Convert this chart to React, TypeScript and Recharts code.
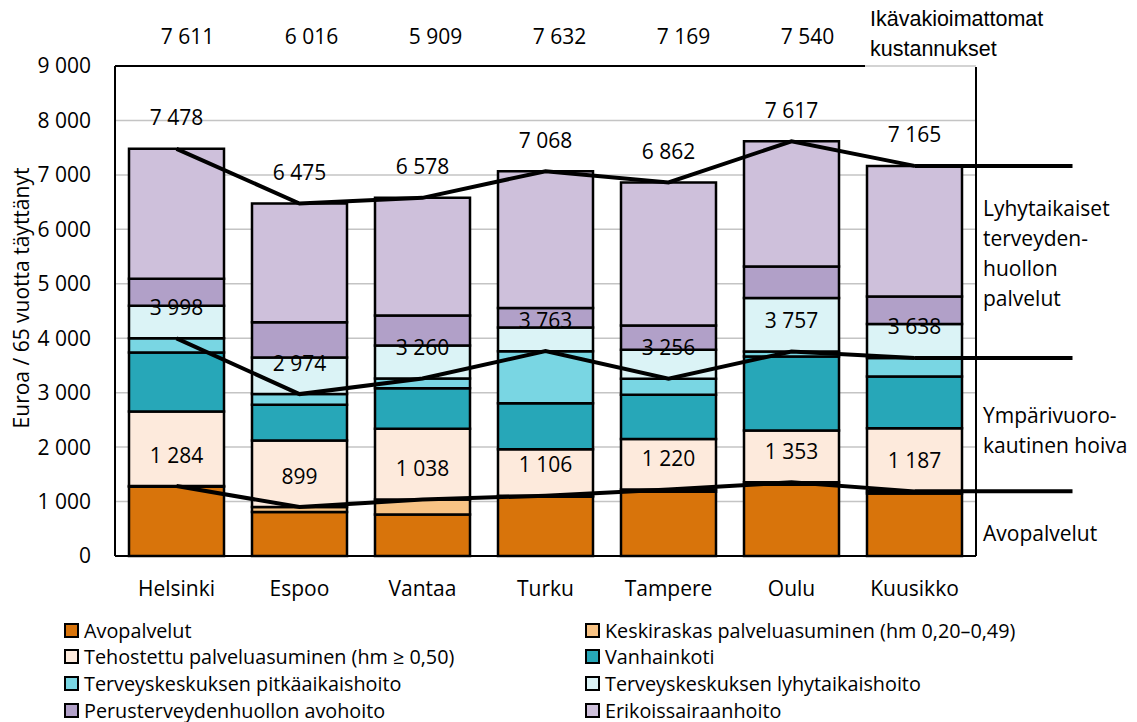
import React from 'react';
import * as R from 'recharts';
import { ComposedChart, Bar, Line, XAxis, YAxis, CartesianGrid, LabelList, Customized } from 'recharts';

// ---- Data ----
const cities = ['Helsinki', 'Espoo', 'Vantaa', 'Turku', 'Tampere', 'Oulu', 'Kuusikko'];
const avopalvelut = [1270, 810, 760, 1090, 1180, 1310, 1150];
const keskiraskas = [14, 89, 278, 16, 40, 43, 37];
const tehostettu = [1370, 1221, 1297, 855, 931, 951, 1160];
const vanhainkoti = [1085, 656, 747, 846, 809, 1360, 949];
const pitkaaikais = [260, 198, 178, 956, 296, 93, 342];
const lyhytaikais = [598, 672, 606, 434, 531, 980, 621];
const perusterveys = [496, 649, 551, 356, 447, 581, 508];
const erikois = [2386, 2180, 2161, 2515, 2628, 2299, 2398];

const lineAvo = [1284, 899, 1038, 1106, 1220, 1353, 1187];
const lineHoiva = [3998, 2974, 3260, 3763, 3256, 3757, 3638];
const lineTotal = [7478, 6475, 6578, 7068, 6862, 7617, 7165];
const unadjusted = [7611, 6016, 5909, 7632, 7169, 7540, null];

const yTicks = [0, 1000, 2000, 3000, 4000, 5000, 6000, 7000, 8000, 9000];

const seriesNames = [
  'Avopalvelut',
  'Keskiraskas palveluasuminen (hm 0,20–0,49)',
  'Tehostettu palveluasuminen (hm ≥ 0,50)',
  'Vanhainkoti',
  'Terveyskeskuksen pitkäaikaishoito',
  'Terveyskeskuksen lyhytaikaishoito',
  'Perusterveydenhuollon avohoito',
  'Erikoissairaanhoito',
];
const seriesColors = ['#D8740B', '#F8C384', '#FDEADC', '#27A7B8', '#79D6E3', '#DBF3F6', '#B1A0C8', '#CEC0DB'];
const seriesValues = [avopalvelut, keskiraskas, tehostettu, vanhainkoti, pitkaaikais, lyhytaikais, perusterveys, erikois];
const seriesKeys = ['s0', 's1', 's2', 's3', 's4', 's5', 's6', 's7'];

const rightLabels = [
  { lines: ['Lyhytaikaiset', 'terveyden-', 'huollon', 'palvelut'], value: 5550 },
  { lines: ['Ympärivuoro-', 'kautinen hoiva'], value: 2315 },
  { lines: ['Avopalvelut'], value: 420 },
];

const data = cities.map((c, i) => {
  const row: any = { city: c, avo: lineAvo[i], hoiva: lineHoiva[i], total: lineTotal[i], unadj: unadjusted[i] };
  seriesKeys.forEach((k, j) => (row[k] = seriesValues[j][i]));
  return row;
});

const FONT = "'Open Sans', sans-serif";
const ARIAL = "'Liberation Sans', Arial, sans-serif";
const fmt = (v: number | null) => (v == null ? '' : String(v).replace(/\B(?=(\d{3})+(?!\d))/g, ' '));

const W = 1137;
const H = 615;

const lineLabel = (props: any) => {
  const { x, y, value, index } = props;
  return (
    <text key={`l${index}`} x={x} y={y - 31} dy="0.36em" textAnchor="middle" fontSize={21} fontFamily={FONT} fill="#000">
      {fmt(value)}
    </text>
  );
};

const extDot = (props: any) => {
  const { cx, cy, index } = props;
  if (index !== cities.length - 1) return <g key={`d${index}`} />;
  return <line key={`d${index}`} x1={cx} y1={cy} x2={cx + 158} y2={cy} stroke="#000" strokeWidth={4} />;
};

const TopTick = (props: any) => {
  const { x, y, index } = props;
  return (
    <text x={x + 11 + index} y={y} dy={-14} textAnchor="middle" fontSize={21} fontFamily={FONT} fill="#000">
      {fmt(unadjusted[index])}
    </text>
  );
};

const BottomTick = (props: any) => {
  const { x, y, payload } = props;
  return (
    <text x={x} y={y} dy={32} textAnchor="middle" fontSize={21} fontFamily={FONT} fill="#000">
      {payload.value}
    </text>
  );
};

function Frame() {
  const hook = (R as any).usePlotArea;
  const pa = hook ? hook() : null;
  const px = pa?.x ?? 115;
  const py = pa?.y ?? 66;
  const pw = pa?.width ?? 861;
  const ph = pa?.height ?? 490;
  const yOf = (v: number) => py + ph - (v / 9000) * ph;
  const boxX = px + (pw * 6) / 7;
  return (
    <g>
      <line x1={px} y1={py} x2={boxX + 12} y2={py} stroke="#000" strokeWidth={2} />
      <line x1={px + pw} y1={py + 1} x2={px + pw} y2={py + ph} stroke="#000" strokeWidth={2} />
      <text fontSize={21.5} fontFamily={ARIAL} fill="#000">
        <tspan x={boxX + 17} y={18} dy="0.36em">Ikävakioimattomat</tspan>
        <tspan x={boxX + 17} y={48} dy="0.36em">kustannukset</tspan>
      </text>
      {rightLabels.map((r, i) => {
        const cy = yOf(r.value);
        const n = r.lines.length;
        return (
          <text key={i} fontSize={21} fontFamily={FONT} fill="#000">
            {r.lines.map((t, j) => (
              <tspan key={j} x={px + pw + 7} y={cy + (j - (n - 1) / 2) * 30} dy="0.36em">
                {t}
              </tspan>
            ))}
          </text>
        );
      })}
      <text
        transform={`translate(21, ${py + ph / 2 - 13}) rotate(-90)`}
        textAnchor="middle"
        dy="0.36em"
        fontSize={21}
        fontFamily={FONT}
        fill="#000"
      >
        Euroa / 65 vuotta täyttänyt
      </text>
    </g>
  );
}

export default function App() {
  return (
    <div style={{ position: 'absolute', left: 0, top: 0, width: 1137, height: 722, background: '#fff', fontFamily: FONT }}>
      <ComposedChart width={W} height={H} data={data} margin={{ top: 16, right: 161, bottom: H - 556 - 40, left: 55 }}>
        <CartesianGrid vertical={false} stroke="#C4C4C4" strokeWidth={1.5} />
        <XAxis
          dataKey="city"
          height={40}
          interval={0}
          tickLine={false}
          axisLine={{ stroke: '#000', strokeWidth: 2 }}
          tick={BottomTick}
        />
        <XAxis xAxisId="top" orientation="top" dataKey="city" height={50} interval={0} tickLine={false} axisLine={false} tick={TopTick} />
        <YAxis
          domain={[0, 9000]}
          ticks={yTicks}
          width={60}
          tickLine={false}
          tickSize={0}
          tickMargin={24}
          tickFormatter={fmt}
          axisLine={{ stroke: '#000', strokeWidth: 2 }}
          tick={{ fontSize: 21, fontFamily: FONT, fill: '#000' }}
          interval={0}
        />
        {seriesKeys.map((k, j) => (
          <Bar
            key={k}
            dataKey={k}
            name={seriesNames[j]}
            stackId="a"
            fill={seriesColors[j]}
            stroke="#000"
            strokeWidth={2.5}
            barSize={95}
            isAnimationActive={false}
          />
        ))}
        {['avo', 'hoiva', 'total'].map((k) => (
          <Line
            key={k}
            dataKey={k}
            type="linear"
            stroke="#000"
            strokeWidth={4}
            dot={extDot}
            activeDot={false}
            isAnimationActive={false}
          >
            <LabelList dataKey={k} content={lineLabel} />
          </Line>
        ))}
        <Customized component={<Frame />} />
      </ComposedChart>
      <div style={{ position: 'absolute', left: 0, top: 617, width: 1137 }}>
        {seriesNames.map((name, j) => {
          const col = j % 2;
          const row = Math.floor(j / 2);
          return (
            <div
              key={name}
              style={{
                position: 'absolute',
                left: col === 0 ? 64 : 585,
                top: row * 26.7,
                height: 26,
                display: 'flex',
                alignItems: 'center',
                whiteSpace: 'nowrap',
                fontSize: 19.8,
                fontFamily: FONT,
                color: '#000',
              }}
            >
              <span
                style={{
                  display: 'inline-block',
                  width: 11,
                  height: 11,
                  background: seriesColors[j],
                  border: '2px solid #000',
                  marginRight: 5,
                }}
              />
              <span>{name}</span>
            </div>
          );
        })}
      </div>
    </div>
  );
}
